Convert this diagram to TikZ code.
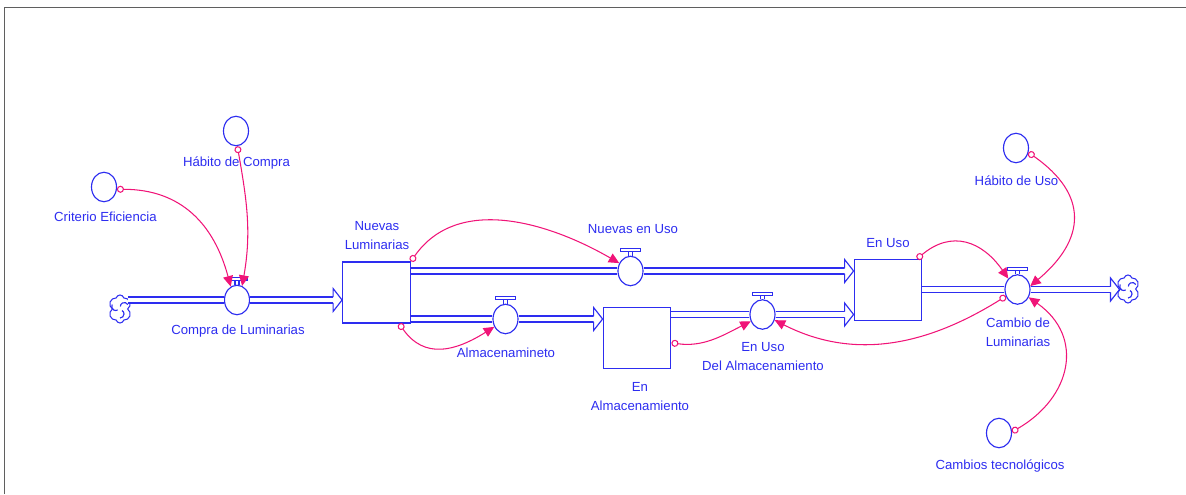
\documentclass[tikz,border=0pt]{standalone}
\usepackage{fontspec}
\setmainfont{Liberation Sans}
\usepackage{tikz}
\usetikzlibrary{arrows.meta}
\usetikzlibrary{shapes.geometric}
\usetikzlibrary{shapes.symbols}
\definecolor{sdblue}{RGB}{45,45,240}
\definecolor{linkpink}{RGB}{240,20,120}
\definecolor{framegray}{RGB}{95,95,95}

\begin{document}
\begin{tikzpicture}[x=0.2mm, y=0.2mm]
\tikzstyle{stock}=[rectangle,draw=sdblue,line width=0.75pt,fill=white,minimum width=13.5mm,minimum height=12.2mm]
\tikzstyle{valve}=[ellipse,draw=sdblue,line width=0.65pt,fill=white,minimum width=5mm,minimum height=5.9mm,inner sep=0pt]
\tikzstyle{aux}=[valve]
\tikzstyle{cloudy}=[cloud,cloud puffs=6,cloud ignores aspect,draw=sdblue,line width=0.6pt,minimum width=4.6mm,minimum height=5.6mm,inner sep=0pt]
\tikzstyle{lbl}=[text=sdblue,align=center,inner sep=0pt,font=\fontsize{7.5}{10.9}\selectfont]
\tikzstyle{pipe}=[draw=sdblue,line width=0.8pt,double=white,double distance=2.4pt]
\tikzstyle{flowline}=[draw=sdblue,line width=0.65pt]
\tikzstyle{link}=[draw=linkpink,line width=0.6pt,{Circle[open,length=4pt,width=4pt]}-{Triangle[length=6pt,width=5.6pt]}]
\useasboundingbox (0,0) rectangle (1186,494);
\draw[framegray,line width=0.8pt] (4.5,0) -- (4.5,486.5) -- (1186,486.5);

\node[cloudy] at(120,185) (cloudL) {};
\node[valve] at(237,194) (vCompra) {};
\node[stock] at(376.5,201.5) (sNuevas) {};
\node[valve] at(630.5,223) (vNuevas) {};
\node[valve] at(505.5,175) (vAlmac) {};
\node[stock] at(637,156) (sAlmac) {};
\node[valve] at(762.5,179.5) (vUsoAlm) {};
\node[stock] at(888,204) (sUso) {};
\node[valve] at(1017.5,204.5) (vCambio) {};
\node[cloudy] at(1128,205) (cloudR) {};

\node[aux] at(104,307) (aCrit) {};
\node[aux] at(236,363) (aHabC) {};
\node[aux] at(1016,346) (aHabU) {};
\node[aux] at(999,61) (aCamb) {};

\node[lbl] at(105.5,277) (tCrit) {Criterio Eficiencia};
\node[lbl] at(236.5,331) (tHabC) {Hábito de Compra};
\node[lbl] at(238,163) (tCompra) {Compra de Luminarias};
\node[lbl] at(377,258.5) (tNuevas) {Nuevas\\Luminarias};
\node[lbl] at(633,265) (tNuevasUso) {Nuevas en Uso};
\node[lbl] at(506,141.5) (tAlmac) {Almacenamineto};
\node[lbl] at(640,97.5) (tEnAlmac) {En\\Almacenamiento};
\node[lbl] at(763,137.5) (tUsoAlm) {En Uso\\Del Almacenamiento};
\node[lbl] at(888,251) (tUso) {En Uso};
\node[lbl] at(1018,162) (tCambio) {Cambio de\\Luminarias};
\node[lbl] at(1016.5,313) (tHabU) {Hábito de Uso};
\node[lbl] at(1000,28) (tCamb) {Cambios tecnológicos};

% swirl inside the clouds
\foreach \c in {cloudL,cloudR}
  \foreach \a in {30,150,270}
    \draw[flowline] (\c.center) ++(\a:9) arc[start angle=\a,end angle=\a+150,radius=4];

\coordinate (eCompra) at (sNuevas.west |- vCompra);
\coordinate (eNuevas) at (sUso.west |- vNuevas);
\coordinate (eAlmac) at (sAlmac.west |- vAlmac);
\coordinate (eUsoAlm) at (sUso.west |- vUsoAlm);
\coordinate (eCambio) at (cloudR.west |- vCambio);

\draw[pipe] (cloudL.east |- vCompra) -- (vCompra);
\draw[pipe] (eCompra) ++(-9,0) -- (vCompra);
\draw[pipe] (sNuevas.east |- vNuevas) -- (vNuevas);
\draw[pipe] (eNuevas) ++(-9,0) -- (vNuevas);
\draw[pipe] (sNuevas.east |- vAlmac) -- (vAlmac);
\draw[pipe] (eAlmac) ++(-9,0) -- (vAlmac);
\draw[pipe] (sAlmac.east |- vUsoAlm) -- (vUsoAlm);
\draw[pipe] (eUsoAlm) ++(-9,0) -- (vUsoAlm);
\draw[pipe] (sUso.east |- vCambio) -- (vCambio);
\draw[pipe] (eCambio) ++(-9,0) -- (vCambio);

\foreach \v in {vCompra,vNuevas,vAlmac,vUsoAlm,vCambio}{
  \draw[flowline] (\v.north) ++(-2,0) -- ++(0,4) (\v.north) ++(2,0) -- ++(0,4);
  \draw[flowline,fill=white] (\v.north) ++(-10,4) rectangle ++(20,3);
}
\foreach \e in {eCompra,eNuevas,eAlmac,eUsoAlm,eCambio}
  \draw[flowline,fill=white] (\e) ++(-9,2.8) -- ++(0,8.7) -- (\e) -- ++(-9,-11.5) -- ++(0,8.7);

\draw[link] (aCrit.-10) to[out=0,in=105,looseness=1.1] (vCompra.115);
\draw[link] (aHabC.-85) to[out=-80,in=80] (vCompra.70);
\draw[link] (sNuevas.north east) to[out=55,in=150] (vNuevas.145);
\draw[link] (sNuevas.-54) to[out=-55,in=-148,looseness=1.2] (vAlmac.-145);
\draw[link] (sAlmac.-8) to[out=-8,in=-153] (vUsoAlm.-150);
\draw[link] (vCambio.-150) to[out=-148,in=-27] (vUsoAlm.-25);
\draw[link] (sUso.47) to[out=40,in=125,looseness=1.25] (vCambio.130);
\draw[link] (aHabU.-20) to[out=-35,in=40,looseness=1.4] (vCambio.15);
\draw[link] (aCamb.5) to[out=30,in=-35,looseness=1.3] (vCambio.-35);
\end{tikzpicture}
\end{document}
